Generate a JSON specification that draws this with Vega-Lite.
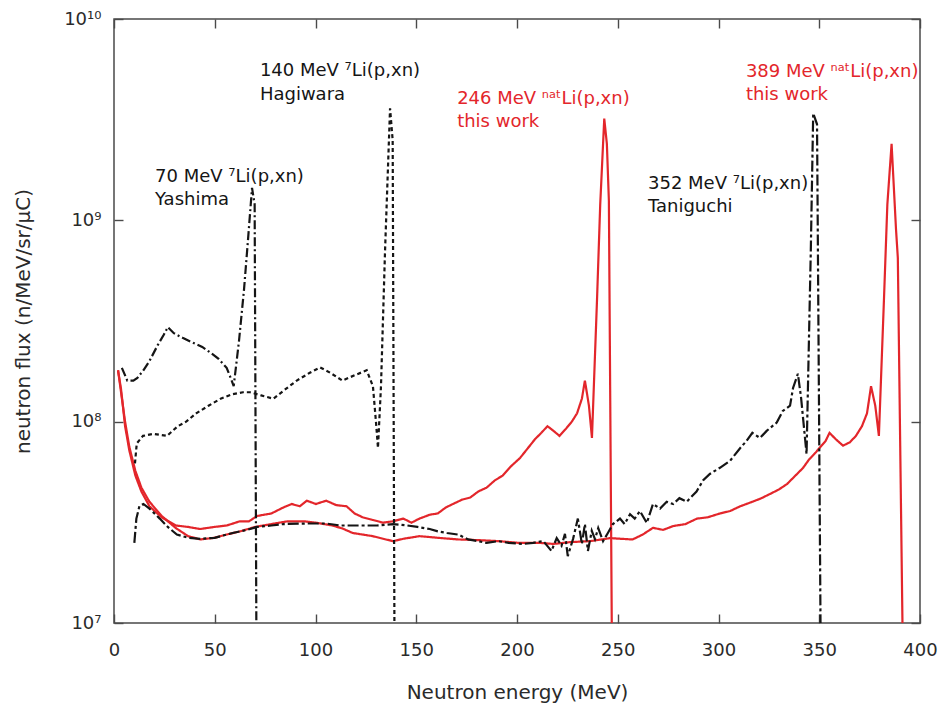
{
  "$schema": "https://vega.github.io/schema/vega-lite/v6.json",
  "width": 806,
  "height": 604,
  "autosize": "none",
  "padding": {"left": 114, "top": 19, "right": 21, "bottom": 81},
  "background": "white",
  "config": {
    "view": {"stroke": "#4a4a4a", "strokeWidth": 1.5},
    "font": "DejaVu Sans",
    "axis": {
      "domain": false,
      "grid": false,
      "ticks": true,
      "zindex": 1,
      "offset": -9,
      "tickColor": "#4a4a4a",
      "tickOpacity": 1,
      "tickWidth": 1.4,
      "tickSize": 9,
      "labelFont": "DejaVu Sans",
      "labelFontSize": 18,
      "labelColor": "#2a2a2a",
      "titleFont": "DejaVu Sans",
      "titleFontSize": 20,
      "titleFontWeight": "normal",
      "titleColor": "#2a2a2a"
    }
  },
  "datasets": {
    "spectra": [
      {"series": "this work 246 MeV", "E": 2.0, "flux": 1.8e8},
      {"series": "this work 246 MeV", "E": 3.5, "flux": 1.45e8},
      {"series": "this work 246 MeV", "E": 5.5, "flux": 9.5e7},
      {"series": "this work 246 MeV", "E": 7.6, "flux": 7.2e7},
      {"series": "this work 246 MeV", "E": 10.6, "flux": 5.4e7},
      {"series": "this work 246 MeV", "E": 13.6, "flux": 4.5e7},
      {"series": "this work 246 MeV", "E": 17.6, "flux": 3.8e7},
      {"series": "this work 246 MeV", "E": 23.7, "flux": 3.35e7},
      {"series": "this work 246 MeV", "E": 30.7, "flux": 3.05e7},
      {"series": "this work 246 MeV", "E": 36.8, "flux": 3.0e7},
      {"series": "this work 246 MeV", "E": 42.8, "flux": 2.93e7},
      {"series": "this work 246 MeV", "E": 49.9, "flux": 3.0e7},
      {"series": "this work 246 MeV", "E": 55.9, "flux": 3.05e7},
      {"series": "this work 246 MeV", "E": 62.5, "flux": 3.2e7},
      {"series": "this work 246 MeV", "E": 67.0, "flux": 3.2e7},
      {"series": "this work 246 MeV", "E": 71.0, "flux": 3.4e7},
      {"series": "this work 246 MeV", "E": 78.1, "flux": 3.5e7},
      {"series": "this work 246 MeV", "E": 84.1, "flux": 3.75e7},
      {"series": "this work 246 MeV", "E": 88.2, "flux": 3.9e7},
      {"series": "this work 246 MeV", "E": 92.2, "flux": 3.8e7},
      {"series": "this work 246 MeV", "E": 95.7, "flux": 4.05e7},
      {"series": "this work 246 MeV", "E": 100.2, "flux": 3.9e7},
      {"series": "this work 246 MeV", "E": 105.3, "flux": 4.05e7},
      {"series": "this work 246 MeV", "E": 110.3, "flux": 3.85e7},
      {"series": "this work 246 MeV", "E": 115.4, "flux": 3.8e7},
      {"series": "this work 246 MeV", "E": 119.4, "flux": 3.5e7},
      {"series": "this work 246 MeV", "E": 123.4, "flux": 3.35e7},
      {"series": "this work 246 MeV", "E": 128.4, "flux": 3.25e7},
      {"series": "this work 246 MeV", "E": 133.5, "flux": 3.15e7},
      {"series": "this work 246 MeV", "E": 138.5, "flux": 3.2e7},
      {"series": "this work 246 MeV", "E": 143.6, "flux": 3.3e7},
      {"series": "this work 246 MeV", "E": 147.6, "flux": 3.15e7},
      {"series": "this work 246 MeV", "E": 151.6, "flux": 3.3e7},
      {"series": "this work 246 MeV", "E": 156.7, "flux": 3.45e7},
      {"series": "this work 246 MeV", "E": 160.7, "flux": 3.5e7},
      {"series": "this work 246 MeV", "E": 164.7, "flux": 3.75e7},
      {"series": "this work 246 MeV", "E": 168.2, "flux": 3.9e7},
      {"series": "this work 246 MeV", "E": 172.8, "flux": 4.1e7},
      {"series": "this work 246 MeV", "E": 176.8, "flux": 4.2e7},
      {"series": "this work 246 MeV", "E": 180.8, "flux": 4.5e7},
      {"series": "this work 246 MeV", "E": 184.9, "flux": 4.7e7},
      {"series": "this work 246 MeV", "E": 188.9, "flux": 5.1e7},
      {"series": "this work 246 MeV", "E": 192.9, "flux": 5.4e7},
      {"series": "this work 246 MeV", "E": 197.0, "flux": 6.0e7},
      {"series": "this work 246 MeV", "E": 201.5, "flux": 6.6e7},
      {"series": "this work 246 MeV", "E": 205.0, "flux": 7.3e7},
      {"series": "this work 246 MeV", "E": 209.0, "flux": 8.2e7},
      {"series": "this work 246 MeV", "E": 212.1, "flux": 8.8e7},
      {"series": "this work 246 MeV", "E": 215.1, "flux": 9.5e7},
      {"series": "this work 246 MeV", "E": 218.1, "flux": 9.0e7},
      {"series": "this work 246 MeV", "E": 221.1, "flux": 8.5e7},
      {"series": "this work 246 MeV", "E": 224.2, "flux": 9.2e7},
      {"series": "this work 246 MeV", "E": 227.2, "flux": 1.0e8},
      {"series": "this work 246 MeV", "E": 229.8, "flux": 1.1e8},
      {"series": "this work 246 MeV", "E": 232.2, "flux": 1.3e8},
      {"series": "this work 246 MeV", "E": 233.7, "flux": 1.6e8},
      {"series": "this work 246 MeV", "E": 235.7, "flux": 1.2e8},
      {"series": "this work 246 MeV", "E": 237.2, "flux": 8.3e7},
      {"series": "this work 246 MeV", "E": 239.7, "flux": 4e8},
      {"series": "this work 246 MeV", "E": 241.3, "flux": 1.2e9},
      {"series": "this work 246 MeV", "E": 243.3, "flux": 3.2e9},
      {"series": "this work 246 MeV", "E": 244.6, "flux": 2.4e9},
      {"series": "this work 246 MeV", "E": 245.6, "flux": 1.25e9},
      {"series": "this work 246 MeV", "E": 247.3, "flux": 4e6},

      {"series": "this work 389 MeV", "E": 2.0, "flux": 1.8e8},
      {"series": "this work 389 MeV", "E": 3.5, "flux": 1.4e8},
      {"series": "this work 389 MeV", "E": 5.5, "flux": 1.0e8},
      {"series": "this work 389 MeV", "E": 7.6, "flux": 7.5e7},
      {"series": "this work 389 MeV", "E": 10.6, "flux": 5.7e7},
      {"series": "this work 389 MeV", "E": 13.6, "flux": 4.7e7},
      {"series": "this work 389 MeV", "E": 17.6, "flux": 4.0e7},
      {"series": "this work 389 MeV", "E": 23.7, "flux": 3.4e7},
      {"series": "this work 389 MeV", "E": 30.7, "flux": 2.96e7},
      {"series": "this work 389 MeV", "E": 36.8, "flux": 2.7e7},
      {"series": "this work 389 MeV", "E": 42.8, "flux": 2.6e7},
      {"series": "this work 389 MeV", "E": 49.9, "flux": 2.65e7},
      {"series": "this work 389 MeV", "E": 55.9, "flux": 2.75e7},
      {"series": "this work 389 MeV", "E": 62.5, "flux": 2.85e7},
      {"series": "this work 389 MeV", "E": 70.0, "flux": 3.0e7},
      {"series": "this work 389 MeV", "E": 78.1, "flux": 3.1e7},
      {"series": "this work 389 MeV", "E": 86.1, "flux": 3.2e7},
      {"series": "this work 389 MeV", "E": 94.2, "flux": 3.2e7},
      {"series": "this work 389 MeV", "E": 100.2, "flux": 3.15e7},
      {"series": "this work 389 MeV", "E": 108.3, "flux": 3.05e7},
      {"series": "this work 389 MeV", "E": 113.3, "flux": 2.95e7},
      {"series": "this work 389 MeV", "E": 118.4, "flux": 2.8e7},
      {"series": "this work 389 MeV", "E": 123.4, "flux": 2.75e7},
      {"series": "this work 389 MeV", "E": 128.4, "flux": 2.7e7},
      {"series": "this work 389 MeV", "E": 133.5, "flux": 2.62e7},
      {"series": "this work 389 MeV", "E": 138.5, "flux": 2.55e7},
      {"series": "this work 389 MeV", "E": 143.6, "flux": 2.62e7},
      {"series": "this work 389 MeV", "E": 151.6, "flux": 2.7e7},
      {"series": "this work 389 MeV", "E": 160.7, "flux": 2.65e7},
      {"series": "this work 389 MeV", "E": 170.8, "flux": 2.6e7},
      {"series": "this work 389 MeV", "E": 180.8, "flux": 2.58e7},
      {"series": "this work 389 MeV", "E": 190.9, "flux": 2.55e7},
      {"series": "this work 389 MeV", "E": 201.0, "flux": 2.5e7},
      {"series": "this work 389 MeV", "E": 211.1, "flux": 2.5e7},
      {"series": "this work 389 MeV", "E": 218.1, "flux": 2.47e7},
      {"series": "this work 389 MeV", "E": 226.2, "flux": 2.52e7},
      {"series": "this work 389 MeV", "E": 236.2, "flux": 2.55e7},
      {"series": "this work 389 MeV", "E": 246.3, "flux": 2.64e7},
      {"series": "this work 389 MeV", "E": 251.4, "flux": 2.62e7},
      {"series": "this work 389 MeV", "E": 257.4, "flux": 2.6e7},
      {"series": "this work 389 MeV", "E": 262.4, "flux": 2.75e7},
      {"series": "this work 389 MeV", "E": 267.5, "flux": 2.97e7},
      {"series": "this work 389 MeV", "E": 272.5, "flux": 2.9e7},
      {"series": "this work 389 MeV", "E": 277.5, "flux": 3.03e7},
      {"series": "this work 389 MeV", "E": 283.6, "flux": 3.1e7},
      {"series": "this work 389 MeV", "E": 289.3, "flux": 3.3e7},
      {"series": "this work 389 MeV", "E": 294.7, "flux": 3.35e7},
      {"series": "this work 389 MeV", "E": 300.7, "flux": 3.5e7},
      {"series": "this work 389 MeV", "E": 305.8, "flux": 3.6e7},
      {"series": "this work 389 MeV", "E": 310.8, "flux": 3.8e7},
      {"series": "this work 389 MeV", "E": 316.8, "flux": 4.0e7},
      {"series": "this work 389 MeV", "E": 320.9, "flux": 4.15e7},
      {"series": "this work 389 MeV", "E": 325.5, "flux": 4.37e7},
      {"series": "this work 389 MeV", "E": 329.9, "flux": 4.6e7},
      {"series": "this work 389 MeV", "E": 334.0, "flux": 4.9e7},
      {"series": "this work 389 MeV", "E": 339.0, "flux": 5.5e7},
      {"series": "this work 389 MeV", "E": 342.0, "flux": 5.9e7},
      {"series": "this work 389 MeV", "E": 345.0, "flux": 6.5e7},
      {"series": "this work 389 MeV", "E": 348.1, "flux": 7.0e7},
      {"series": "this work 389 MeV", "E": 350.1, "flux": 7.4e7},
      {"series": "this work 389 MeV", "E": 353.1, "flux": 8.0e7},
      {"series": "this work 389 MeV", "E": 355.1, "flux": 8.8e7},
      {"series": "this work 389 MeV", "E": 358.1, "flux": 8.2e7},
      {"series": "this work 389 MeV", "E": 361.8, "flux": 7.6e7},
      {"series": "this work 389 MeV", "E": 365.2, "flux": 7.9e7},
      {"series": "this work 389 MeV", "E": 368.2, "flux": 8.5e7},
      {"series": "this work 389 MeV", "E": 371.2, "flux": 9.5e7},
      {"series": "this work 389 MeV", "E": 373.7, "flux": 1.1e8},
      {"series": "this work 389 MeV", "E": 375.7, "flux": 1.5e8},
      {"series": "this work 389 MeV", "E": 377.8, "flux": 1.2e8},
      {"series": "this work 389 MeV", "E": 379.6, "flux": 8.5e7},
      {"series": "this work 389 MeV", "E": 382.1, "flux": 4e8},
      {"series": "this work 389 MeV", "E": 383.8, "flux": 1.2e9},
      {"series": "this work 389 MeV", "E": 385.9, "flux": 2.4e9},
      {"series": "this work 389 MeV", "E": 388.1, "flux": 9e8},
      {"series": "this work 389 MeV", "E": 389.0, "flux": 6.5e8},
      {"series": "this work 389 MeV", "E": 391.8, "flux": 4e6},

      {"series": "Taniguchi 352 MeV", "E": 10.1, "flux": 2.5e7},
      {"series": "Taniguchi 352 MeV", "E": 11.1, "flux": 3.3e7},
      {"series": "Taniguchi 352 MeV", "E": 12.6, "flux": 3.8e7},
      {"series": "Taniguchi 352 MeV", "E": 14.6, "flux": 3.9e7},
      {"series": "Taniguchi 352 MeV", "E": 17.6, "flux": 3.7e7},
      {"series": "Taniguchi 352 MeV", "E": 22.7, "flux": 3.3e7},
      {"series": "Taniguchi 352 MeV", "E": 26.7, "flux": 3.0e7},
      {"series": "Taniguchi 352 MeV", "E": 31.2, "flux": 2.75e7},
      {"series": "Taniguchi 352 MeV", "E": 36.8, "flux": 2.65e7},
      {"series": "Taniguchi 352 MeV", "E": 42.8, "flux": 2.62e7},
      {"series": "Taniguchi 352 MeV", "E": 49.9, "flux": 2.65e7},
      {"series": "Taniguchi 352 MeV", "E": 58.9, "flux": 2.8e7},
      {"series": "Taniguchi 352 MeV", "E": 66.0, "flux": 2.9e7},
      {"series": "Taniguchi 352 MeV", "E": 71.0, "flux": 3.0e7},
      {"series": "Taniguchi 352 MeV", "E": 78.1, "flux": 3.05e7},
      {"series": "Taniguchi 352 MeV", "E": 84.1, "flux": 3.1e7},
      {"series": "Taniguchi 352 MeV", "E": 95.2, "flux": 3.12e7},
      {"series": "Taniguchi 352 MeV", "E": 105.3, "flux": 3.12e7},
      {"series": "Taniguchi 352 MeV", "E": 112.3, "flux": 3.05e7},
      {"series": "Taniguchi 352 MeV", "E": 120.4, "flux": 3.05e7},
      {"series": "Taniguchi 352 MeV", "E": 130.5, "flux": 3.05e7},
      {"series": "Taniguchi 352 MeV", "E": 138.5, "flux": 3.1e7},
      {"series": "Taniguchi 352 MeV", "E": 145.6, "flux": 3.05e7},
      {"series": "Taniguchi 352 MeV", "E": 150.6, "flux": 3.0e7},
      {"series": "Taniguchi 352 MeV", "E": 156.7, "flux": 2.93e7},
      {"series": "Taniguchi 352 MeV", "E": 160.7, "flux": 2.85e7},
      {"series": "Taniguchi 352 MeV", "E": 165.2, "flux": 2.8e7},
      {"series": "Taniguchi 352 MeV", "E": 170.8, "flux": 2.75e7},
      {"series": "Taniguchi 352 MeV", "E": 175.8, "flux": 2.6e7},
      {"series": "Taniguchi 352 MeV", "E": 180.8, "flux": 2.55e7},
      {"series": "Taniguchi 352 MeV", "E": 184.9, "flux": 2.5e7},
      {"series": "Taniguchi 352 MeV", "E": 190.9, "flux": 2.55e7},
      {"series": "Taniguchi 352 MeV", "E": 195.9, "flux": 2.5e7},
      {"series": "Taniguchi 352 MeV", "E": 203.0, "flux": 2.47e7},
      {"series": "Taniguchi 352 MeV", "E": 208.0, "flux": 2.5e7},
      {"series": "Taniguchi 352 MeV", "E": 213.1, "flux": 2.55e7},
      {"series": "Taniguchi 352 MeV", "E": 217.1, "flux": 2.28e7},
      {"series": "Taniguchi 352 MeV", "E": 219.7, "flux": 2.64e7},
      {"series": "Taniguchi 352 MeV", "E": 222.1, "flux": 2.42e7},
      {"series": "Taniguchi 352 MeV", "E": 223.8, "flux": 2.77e7},
      {"series": "Taniguchi 352 MeV", "E": 225.2, "flux": 2.15e7},
      {"series": "Taniguchi 352 MeV", "E": 227.8, "flux": 2.61e7},
      {"series": "Taniguchi 352 MeV", "E": 230.2, "flux": 3.3e7},
      {"series": "Taniguchi 352 MeV", "E": 232.2, "flux": 2.47e7},
      {"series": "Taniguchi 352 MeV", "E": 233.7, "flux": 3.1e7},
      {"series": "Taniguchi 352 MeV", "E": 235.2, "flux": 2.28e7},
      {"series": "Taniguchi 352 MeV", "E": 237.1, "flux": 2.87e7},
      {"series": "Taniguchi 352 MeV", "E": 238.7, "flux": 2.61e7},
      {"series": "Taniguchi 352 MeV", "E": 240.3, "flux": 2.96e7},
      {"series": "Taniguchi 352 MeV", "E": 242.7, "flux": 2.55e7},
      {"series": "Taniguchi 352 MeV", "E": 245.1, "flux": 2.8e7},
      {"series": "Taniguchi 352 MeV", "E": 247.6, "flux": 3.1e7},
      {"series": "Taniguchi 352 MeV", "E": 251.1, "flux": 3.3e7},
      {"series": "Taniguchi 352 MeV", "E": 253.4, "flux": 3.1e7},
      {"series": "Taniguchi 352 MeV", "E": 256.1, "flux": 3.47e7},
      {"series": "Taniguchi 352 MeV", "E": 258.4, "flux": 3.3e7},
      {"series": "Taniguchi 352 MeV", "E": 261.0, "flux": 3.6e7},
      {"series": "Taniguchi 352 MeV", "E": 264.4, "flux": 3.14e7},
      {"series": "Taniguchi 352 MeV", "E": 267.5, "flux": 3.9e7},
      {"series": "Taniguchi 352 MeV", "E": 271.0, "flux": 3.7e7},
      {"series": "Taniguchi 352 MeV", "E": 274.3, "flux": 4.0e7},
      {"series": "Taniguchi 352 MeV", "E": 277.5, "flux": 3.9e7},
      {"series": "Taniguchi 352 MeV", "E": 280.6, "flux": 4.17e7},
      {"series": "Taniguchi 352 MeV", "E": 284.2, "flux": 4.0e7},
      {"series": "Taniguchi 352 MeV", "E": 289.1, "flux": 4.5e7},
      {"series": "Taniguchi 352 MeV", "E": 292.3, "flux": 5.1e7},
      {"series": "Taniguchi 352 MeV", "E": 295.7, "flux": 5.5e7},
      {"series": "Taniguchi 352 MeV", "E": 300.7, "flux": 5.9e7},
      {"series": "Taniguchi 352 MeV", "E": 305.8, "flux": 6.4e7},
      {"series": "Taniguchi 352 MeV", "E": 310.8, "flux": 7.4e7},
      {"series": "Taniguchi 352 MeV", "E": 313.8, "flux": 8.0e7},
      {"series": "Taniguchi 352 MeV", "E": 316.8, "flux": 8.8e7},
      {"series": "Taniguchi 352 MeV", "E": 320.6, "flux": 8.3e7},
      {"series": "Taniguchi 352 MeV", "E": 323.9, "flux": 9.0e7},
      {"series": "Taniguchi 352 MeV", "E": 328.9, "flux": 9.9e7},
      {"series": "Taniguchi 352 MeV", "E": 331.9, "flux": 1.13e8},
      {"series": "Taniguchi 352 MeV", "E": 335.5, "flux": 1.2e8},
      {"series": "Taniguchi 352 MeV", "E": 337.0, "flux": 1.47e8},
      {"series": "Taniguchi 352 MeV", "E": 339.4, "flux": 1.73e8},
      {"series": "Taniguchi 352 MeV", "E": 341.0, "flux": 1.31e8},
      {"series": "Taniguchi 352 MeV", "E": 343.7, "flux": 6.9e7},
      {"series": "Taniguchi 352 MeV", "E": 345.8, "flux": 7e8},
      {"series": "Taniguchi 352 MeV", "E": 347.0, "flux": 3.4e9},
      {"series": "Taniguchi 352 MeV", "E": 348.9, "flux": 3.0e9},
      {"series": "Taniguchi 352 MeV", "E": 350.9, "flux": 4e6},

      {"series": "Yashima 70 MeV", "E": 3.9, "flux": 1.85e8},
      {"series": "Yashima 70 MeV", "E": 6.6, "flux": 1.6e8},
      {"series": "Yashima 70 MeV", "E": 9.6, "flux": 1.6e8},
      {"series": "Yashima 70 MeV", "E": 11.6, "flux": 1.65e8},
      {"series": "Yashima 70 MeV", "E": 14.6, "flux": 1.8e8},
      {"series": "Yashima 70 MeV", "E": 17.6, "flux": 2.0e8},
      {"series": "Yashima 70 MeV", "E": 21.7, "flux": 2.4e8},
      {"series": "Yashima 70 MeV", "E": 24.7, "flux": 2.7e8},
      {"series": "Yashima 70 MeV", "E": 26.7, "flux": 2.95e8},
      {"series": "Yashima 70 MeV", "E": 29.7, "flux": 2.75e8},
      {"series": "Yashima 70 MeV", "E": 34.3, "flux": 2.6e8},
      {"series": "Yashima 70 MeV", "E": 39.8, "flux": 2.45e8},
      {"series": "Yashima 70 MeV", "E": 43.8, "flux": 2.35e8},
      {"series": "Yashima 70 MeV", "E": 47.9, "flux": 2.2e8},
      {"series": "Yashima 70 MeV", "E": 51.9, "flux": 2.05e8},
      {"series": "Yashima 70 MeV", "E": 55.9, "flux": 1.85e8},
      {"series": "Yashima 70 MeV", "E": 57.9, "flux": 1.65e8},
      {"series": "Yashima 70 MeV", "E": 59.4, "flux": 1.5e8},
      {"series": "Yashima 70 MeV", "E": 62.0, "flux": 2.5e8},
      {"series": "Yashima 70 MeV", "E": 64.5, "flux": 4.5e8},
      {"series": "Yashima 70 MeV", "E": 66.5, "flux": 8e8},
      {"series": "Yashima 70 MeV", "E": 68.5, "flux": 1.45e9},
      {"series": "Yashima 70 MeV", "E": 69.8, "flux": 1.2e9},
      {"series": "Yashima 70 MeV", "E": 70.8, "flux": 4e6},

      {"series": "Hagiwara 140 MeV", "E": 10.4, "flux": 6.2e7},
      {"series": "Hagiwara 140 MeV", "E": 11.3, "flux": 7.8e7},
      {"series": "Hagiwara 140 MeV", "E": 14.4, "flux": 8.5e7},
      {"series": "Hagiwara 140 MeV", "E": 19.6, "flux": 8.7e7},
      {"series": "Hagiwara 140 MeV", "E": 26.3, "flux": 8.5e7},
      {"series": "Hagiwara 140 MeV", "E": 31.7, "flux": 9.5e7},
      {"series": "Hagiwara 140 MeV", "E": 35.8, "flux": 1.0e8},
      {"series": "Hagiwara 140 MeV", "E": 40.8, "flux": 1.1e8},
      {"series": "Hagiwara 140 MeV", "E": 46.9, "flux": 1.2e8},
      {"series": "Hagiwara 140 MeV", "E": 52.9, "flux": 1.3e8},
      {"series": "Hagiwara 140 MeV", "E": 58.9, "flux": 1.37e8},
      {"series": "Hagiwara 140 MeV", "E": 64.0, "flux": 1.4e8},
      {"series": "Hagiwara 140 MeV", "E": 67.5, "flux": 1.4e8},
      {"series": "Hagiwara 140 MeV", "E": 73.0, "flux": 1.35e8},
      {"series": "Hagiwara 140 MeV", "E": 79.1, "flux": 1.3e8},
      {"series": "Hagiwara 140 MeV", "E": 85.1, "flux": 1.45e8},
      {"series": "Hagiwara 140 MeV", "E": 90.7, "flux": 1.6e8},
      {"series": "Hagiwara 140 MeV", "E": 97.2, "flux": 1.75e8},
      {"series": "Hagiwara 140 MeV", "E": 102.3, "flux": 1.86e8},
      {"series": "Hagiwara 140 MeV", "E": 107.3, "flux": 1.75e8},
      {"series": "Hagiwara 140 MeV", "E": 113.3, "flux": 1.6e8},
      {"series": "Hagiwara 140 MeV", "E": 119.4, "flux": 1.7e8},
      {"series": "Hagiwara 140 MeV", "E": 125.4, "flux": 1.8e8},
      {"series": "Hagiwara 140 MeV", "E": 128.5, "flux": 1.5e8},
      {"series": "Hagiwara 140 MeV", "E": 130.0, "flux": 1.0e8},
      {"series": "Hagiwara 140 MeV", "E": 131.0, "flux": 7.4e7},
      {"series": "Hagiwara 140 MeV", "E": 132.5, "flux": 1.5e8},
      {"series": "Hagiwara 140 MeV", "E": 134.5, "flux": 7e8},
      {"series": "Hagiwara 140 MeV", "E": 137.0, "flux": 3.6e9},
      {"series": "Hagiwara 140 MeV", "E": 138.3, "flux": 2.5e9},
      {"series": "Hagiwara 140 MeV", "E": 139.3, "flux": 4e6}
    ],
    "labels": [
      {"series": "Hagiwara 140 MeV", "E": 72.4, "flux": 5.5e9, "text": "140 MeV  ⁷Li(p,xn)"},
      {"series": "Hagiwara 140 MeV", "E": 72.4, "flux": 4.2e9, "text": "Hagiwara"},
      {"series": "Yashima 70 MeV", "E": 20.4, "flux": 1.64e9, "text": "70 MeV  ⁷Li(p,xn)"},
      {"series": "Yashima 70 MeV", "E": 20.4, "flux": 1.26e9, "text": "Yashima"},
      {"series": "this work 246 MeV", "E": 170.3, "flux": 4.0e9, "text": "246 MeV ⁿᵃᵗLi(p,xn)"},
      {"series": "this work 246 MeV", "E": 170.3, "flux": 3.08e9, "text": "this work"},
      {"series": "this work 389 MeV", "E": 313.6, "flux": 5.46e9, "text": "389 MeV ⁿᵃᵗLi(p,xn)"},
      {"series": "this work 389 MeV", "E": 313.6, "flux": 4.2e9, "text": "this work"},
      {"series": "Taniguchi 352 MeV", "E": 265.0, "flux": 1.52e9, "text": "352 MeV ⁷Li(p,xn)"},
      {"series": "Taniguchi 352 MeV", "E": 265.0, "flux": 1.17e9, "text": "Taniguchi"}
    ]
  },
  "layer": [
    {
      "data": {"name": "spectra"},
      "mark": {"type": "line", "clip": true, "strokeWidth": 2.2, "interpolate": "linear"},
      "encoding": {
        "x": {
          "field": "E",
          "type": "quantitative",
          "scale": {"domain": [0, 400], "nice": false, "zero": false},
          "axis": {
            "orient": "bottom",
            "values": [0, 50, 100, 150, 200, 250, 300, 350, 400],
            "ticks": true,
            "tickSize": 9,
            "labelPadding": 18,
            "labelFlush": false,
            "title": "Neutron energy (MeV)",
            "titlePadding": 23
          }
        },
        "y": {
          "field": "flux",
          "type": "quantitative",
          "scale": {"type": "log", "domain": [1e7, 1e10], "nice": false},
          "axis": {
            "orient": "left",
            "values": [1e7, 1e8, 1e9, 1e10],
            "ticks": true,
            "tickSize": 9,
            "labelExpr": "datum.value < 5e7 ? '10⁷' : datum.value < 5e8 ? '10⁸' : datum.value < 5e9 ? '10⁹' : '10¹⁰'",
            "labelPadding": 13,
            "labelFlush": false,
            "title": "neutron flux (n/MeV/sr/μC)",
            "titlePadding": 30
          }
        },
        "color": {
          "field": "series",
          "type": "nominal",
          "scale": {
            "domain": ["Yashima 70 MeV", "Hagiwara 140 MeV", "Taniguchi 352 MeV", "this work 246 MeV", "this work 389 MeV"],
            "range": ["#151515", "#151515", "#151515", "#e3262b", "#e3262b"]
          },
          "legend": null
        },
        "strokeDash": {
          "field": "series",
          "type": "nominal",
          "scale": {
            "domain": ["Yashima 70 MeV", "Hagiwara 140 MeV", "Taniguchi 352 MeV", "this work 246 MeV", "this work 389 MeV"],
            "range": [[9, 3, 2, 3], [4, 3], [11, 3, 3, 3], [1, 0], [1, 0]]
          },
          "legend": null
        }
      }
    },
    {
      "data": {"name": "labels"},
      "mark": {"type": "text", "align": "left", "baseline": "middle", "fontSize": 18, "font": "DejaVu Sans"},
      "encoding": {
        "x": {
          "field": "E",
          "type": "quantitative",
          "scale": {"domain": [0, 400], "nice": false, "zero": false},
          "axis": {
            "orient": "top",
            "values": [0, 50, 100, 150, 200, 250, 300, 350, 400],
            "ticks": true,
            "tickSize": 9,
            "labels": false,
            "title": null
          }
        },
        "y": {
          "field": "flux",
          "type": "quantitative",
          "scale": {"type": "log", "domain": [1e7, 1e10], "nice": false},
          "axis": {
            "orient": "right",
            "values": [1e7, 1e8, 1e9, 1e10],
            "ticks": true,
            "tickSize": 9,
            "labels": false,
            "title": null
          }
        },
        "text": {"field": "text", "type": "nominal"},
        "color": {"field": "series", "type": "nominal", "legend": null}
      }
    }
  ],
  "resolve": {"axis": {"x": "independent", "y": "independent"}}
}
